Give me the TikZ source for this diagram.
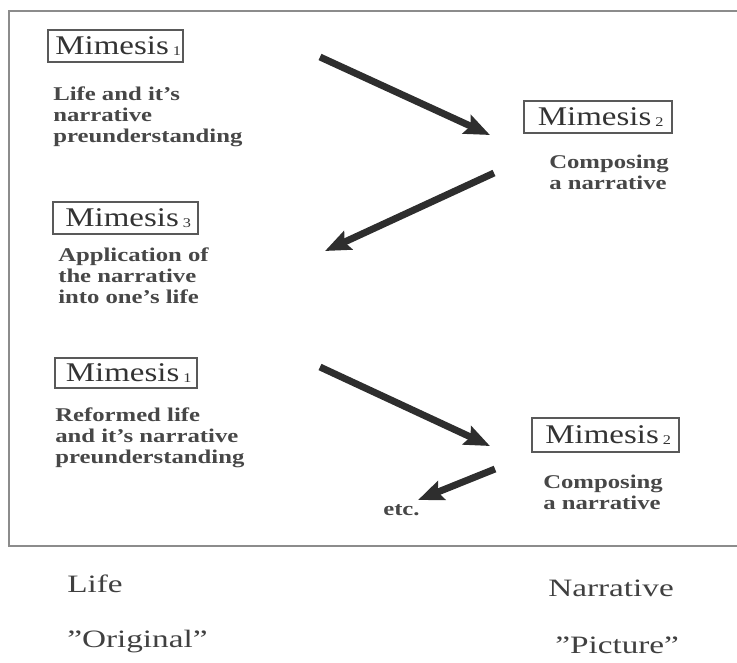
\documentclass[tikz,border=0pt]{standalone}
\usepackage{fontspec}
\setmainfont{Liberation Serif}
\newfontfamily\mfont[FakeStretch=1.22]{Liberation Serif}
\newfontfamily\bfont[FakeStretch=1.27]{Liberation Serif}
\newfontfamily\lfont[FakeStretch=1.33]{Liberation Serif}
\usetikzlibrary{arrows.meta}
\newcommand\msub[1]{\kern3pt{\fontsize{10}{10}\selectfont\raisebox{-1pt}{#1}}}
\newcommand\mname[1]{\hspace*{4pt}Mimesis\msub{#1}}
\begin{document}
\begin{tikzpicture}[x=0.75pt,y=-0.75pt,
  mbox/.style={draw=black!65,line width=0.8pt,inner sep=0pt,
    font=\mfont\fontsize{20.25}{24}\selectfont,text=black!80},
  desc/.style={anchor=north west,inner sep=0pt,align=left,
    font=\bfont\bfseries\fontsize{14.6}{15.75}\selectfont,text=black!72},
  big/.style={anchor=north west,inner sep=0pt,
    font=\lfont\fontsize{18.75}{22}\selectfont,text=black!75},
  flow/.style={line width=5.2pt,draw=black!82,
    -{Stealth[length=19pt,width=15pt,inset=3pt]}},
  frame/.style={draw=black!45,line width=0.8pt}]
\useasboundingbox (0,0) rectangle (737,662);
\draw[frame] (737,11) -- (9,11) -- (9,546) -- (737,546);

% Mimesis boxes
\node[mbox,minimum width=101.25pt,minimum height=24pt] (m1a) at (115.5,46) {\mname{1}};
\node[mbox,minimum width=111pt,minimum height=24pt] (m2a) at (598,117) {\mname{2}};
\node[mbox,minimum width=108.75pt,minimum height=24pt] (m3) at (125.5,218) {\mname{3}};
\node[mbox,minimum width=106.5pt,minimum height=22.5pt] (m1b) at (126,373) {\mname{1}};
\node[mbox,minimum width=110.25pt,minimum height=25.5pt] (m2b) at (605.5,435) {\mname{2}};

% descriptions
\node[desc] (d1) at (53,87) {Life and it’s\\narrative\\preunderstanding};
\node[desc] (d2) at (549,155) {Composing\\a narrative};
\node[desc] (d3) at (58,248) {Application of\\the narrative\\into one’s life};
\node[desc] (d4) at (55,408) {Reformed life\\and it’s narrative\\preunderstanding};
\node[desc] (d5) at (543,475) {Composing\\a narrative};
\node[desc,anchor=west] (etc) at (383,510) {etc.};

% bottom labels
\node[big] (life) at (67,575) {Life};
\node[big] (orig) at (67,630) {”Original”};
\node[big] (narr) at (548,580) {Narrative};
\node[big] (pict) at (555,637) {”Picture”};

% arrows
\coordinate (a1s) at (320,57);
\coordinate (a1e) at (490,135);
\coordinate (a2s) at (494,173);
\coordinate (a2e) at (325,251);
\coordinate (a3s) at (320,367);
\coordinate (a3e) at (490,446);
\coordinate (a4s) at (495,469);
\coordinate (a4e) at (418,500);
\draw[flow] (a1s) -- (a1e);
\draw[flow] (a2s) -- (a2e);
\draw[flow] (a3s) -- (a3e);
\draw[flow] (a4s) -- (a4e);
\end{tikzpicture}
\end{document}
